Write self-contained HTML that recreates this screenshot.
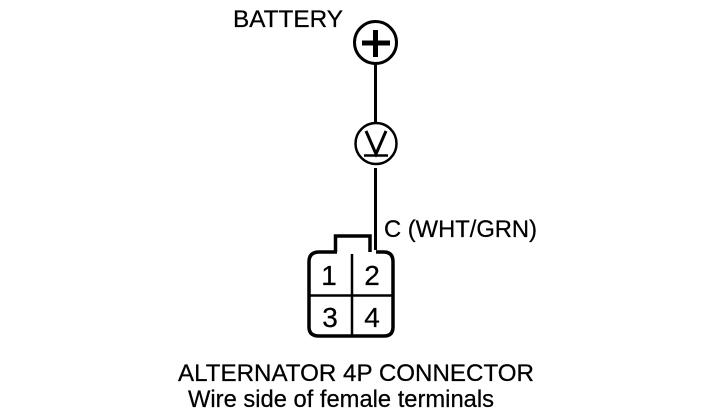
<!DOCTYPE html>
<html><head><meta charset="utf-8"><style>
html,body{margin:0;padding:0;background:#fff}
svg{display:block}
text{font-family:"Liberation Sans",sans-serif;fill:#000;stroke:#000;stroke-width:.25}
</style></head><body>
<svg width="704" height="416" viewBox="0 0 704 416" xmlns="http://www.w3.org/2000/svg">
<rect width="704" height="416" fill="#fff"/>
<g fill="none" stroke="#000">
<circle cx="375.500" cy="42.500" r="21" stroke-width="3"/>
<path d="M362 43H390M375.500 30V57" stroke-width="5"/>
<path d="M375.500 64V122" stroke-width="3"/>
<circle cx="376" cy="143.500" r="20.500" stroke-width="2.500"/>
<path d="M366 131L376 154L386 131" stroke-width="3"/>
<path d="M364 155.500H388" stroke-width="2.500"/>
<path d="M375.500 168V250" stroke-width="3"/>
<path d="M335.500 252V236H370V252" stroke-width="3.500"/>
<path d="M337 252H319Q309 252 309 262V327Q309 336 319 336H384Q393 336 393 327V262Q393 252 384 252H376" stroke-width="3.500"/>
<path d="M352 254V336" stroke-width="2.500"/>
<path d="M310 295.500H393" stroke-width="2.500"/>
</g>
<text x="233" y="27" font-size="24" textLength="110" lengthAdjust="spacingAndGlyphs">BATTERY</text>
<text x="384" y="237" font-size="24" textLength="153" lengthAdjust="spacingAndGlyphs">C (WHT/GRN)</text>
<text x="178" y="381" font-size="24" textLength="356" lengthAdjust="spacingAndGlyphs">ALTERNATOR 4P CONNECTOR</text>
<text x="188" y="407" font-size="24" textLength="306" lengthAdjust="spacingAndGlyphs">Wire side of female terminals</text>
<text x="329" y="285" font-size="28" text-anchor="middle">1</text>
<text x="372" y="285" font-size="28" text-anchor="middle">2</text>
<text x="330" y="327" font-size="28" text-anchor="middle">3</text>
<text x="372" y="327" font-size="28" text-anchor="middle">4</text>
</svg>
</body></html>
